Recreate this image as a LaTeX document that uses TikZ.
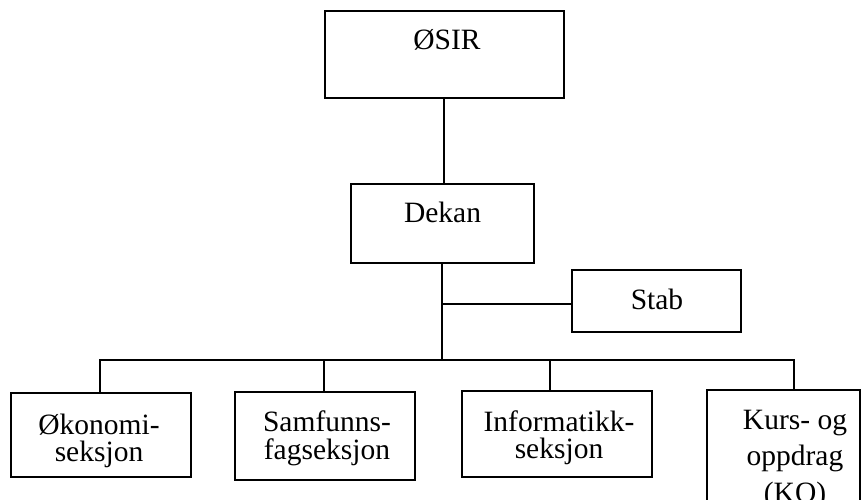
\documentclass[tikz,border=0pt]{standalone}
\usepackage{fontspec}
\setmainfont{Liberation Serif}
\begin{document}
\begin{tikzpicture}[x=1pt,y=-1pt,
  box/.style={draw,line width=2pt,inner sep=0pt},
  conn/.style={line width=2pt},
  lbl/.style={anchor=base,inner sep=0pt,font=\fontsize{29.5}{25}\selectfont}]
\useasboundingbox (0,0) rectangle (868,499);
% boxes
\node[box,minimum width=239pt,minimum height=87pt] (osir) at (444,54.5) {};
\node[box,minimum width=183pt,minimum height=79pt] (dekan) at (442.5,223.5) {};
\node[box,minimum width=169pt,minimum height=62pt] (stab) at (656.5,301) {};
\node[box,minimum width=180pt,minimum height=84pt] (okon) at (101,435) {};
\node[box,minimum width=180pt,minimum height=88pt] (samf) at (325,436) {};
\node[box,minimum width=190pt,minimum height=86pt] (info) at (557,434) {};
\node[box,minimum width=153pt,minimum height=140pt] (kurs) at (783.5,460) {};
% texts
\node[lbl] (tosir) at (447,49) {ØSIR};
\node[lbl] (tdekan) at (442.5,222) {Dekan};
\node[lbl] (tstab) at (657,309) {Stab};
\node[lbl] (tokon) at (99,434) {\begin{tabular}[t]{@{}c@{}}Økonomi-\\seksjon\end{tabular}};
\node[lbl] (tsamf) at (327,431) {\begin{tabular}[t]{@{}c@{}}Samfunns-\\fagseksjon\end{tabular}};
\node[lbl] (tinfo) at (559,431) {\begin{tabular}[t]{@{}c@{}}Informatikk-\\seksjon\end{tabular}};
\node[lbl] (tkurs) at (795,429) {\begin{tabular}[t]{@{}c@{}}Kurs- og\\[9pt]oppdrag\\[9pt](KO)\end{tabular}};
% bus coordinates
\coordinate (bus) at (442,360);
\coordinate (b1) at (100,360);
\coordinate (b2) at (324,360);
\coordinate (b3) at (550,360);
\coordinate (b4) at (794,360);
\coordinate (sj) at (442,304);
% connectors
\draw[conn] (osir.south) -- (osir.south |- dekan.north);
\draw[conn] (dekan.south -| bus) -- (bus);
\draw[conn] (sj) -- (sj -| stab.west);
\draw[conn] ([xshift=-1pt]b1) -- ([xshift=1pt]b4);
\draw[conn] (b1) -- (b1 |- okon.north);
\draw[conn] (b2) -- (b2 |- samf.north);
\draw[conn] (b3) -- (b3 |- info.north);
\draw[conn] (b4) -- (b4 |- kurs.north);
\end{tikzpicture}
\end{document}
